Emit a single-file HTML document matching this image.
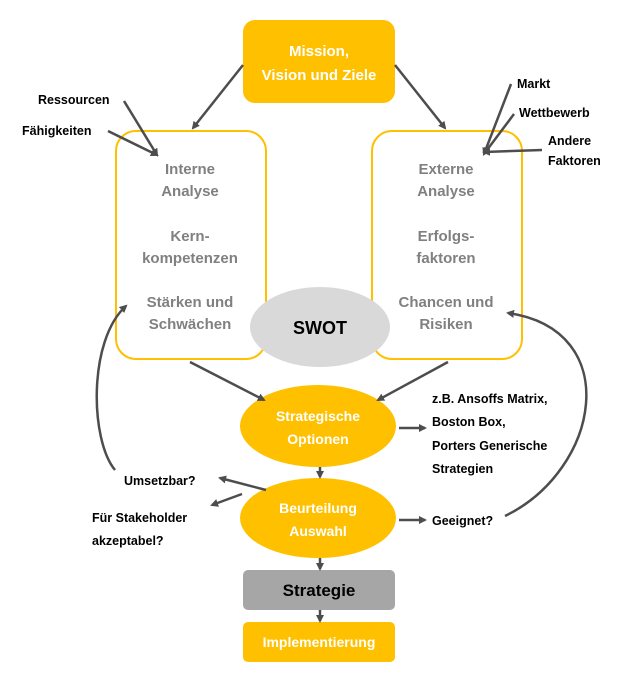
<!DOCTYPE html>
<html><head><meta charset="utf-8"><style>
body{margin:0;background:#fff;width:636px;height:686px;overflow:hidden}
svg text{font-family:"Liberation Sans",sans-serif;font-weight:bold}
</style></head><body>
<svg width="636" height="686" viewBox="0 0 636 686" xmlns="http://www.w3.org/2000/svg">
<defs><marker id="a" markerWidth="8" markerHeight="8" refX="6" refY="4" orient="auto" markerUnits="userSpaceOnUse"><path d="M0,0 L8,4 L0,8 z" fill="#4d4d4d"/></marker></defs>
<rect x="243" y="20" width="152" height="83" rx="12" fill="#FFC000"/>
<text x="319" y="56" text-anchor="middle" fill="#fff" font-size="15">Mission,</text>
<text x="319" y="80" text-anchor="middle" fill="#fff" font-size="15">Vision und Ziele</text>
<rect x="116" y="131" width="150" height="228" rx="20" fill="#fff" stroke="#FFC000" stroke-width="2"/>
<rect x="372" y="131" width="150" height="228" rx="20" fill="#fff" stroke="#FFC000" stroke-width="2"/>
<g fill="#808080" font-size="15" text-anchor="middle">
<text x="190" y="174">Interne</text><text x="190" y="196">Analyse</text>
<text x="190" y="241">Kern-</text><text x="190" y="263">kompetenzen</text>
<text x="190" y="307">Stärken und</text><text x="190" y="329">Schwächen</text>
<text x="446" y="174">Externe</text><text x="446" y="196">Analyse</text>
<text x="446" y="241">Erfolgs-</text><text x="446" y="263">faktoren</text>
<text x="446" y="307">Chancen und</text><text x="446" y="329">Risiken</text>
</g>
<ellipse cx="320" cy="327" rx="70" ry="40" fill="#d9d9d9"/>
<text x="320" y="334" text-anchor="middle" font-size="18" fill="#000">SWOT</text>
<ellipse cx="318" cy="426" rx="78" ry="41" fill="#FFC000"/>
<text x="318" y="421" text-anchor="middle" fill="#fff" font-size="14">Strategische</text>
<text x="318" y="444" text-anchor="middle" fill="#fff" font-size="14">Optionen</text>
<ellipse cx="318" cy="518" rx="78" ry="40" fill="#FFC000"/>
<text x="318" y="513" text-anchor="middle" fill="#fff" font-size="14">Beurteilung</text>
<text x="318" y="536" text-anchor="middle" fill="#fff" font-size="14">Auswahl</text>
<rect x="243" y="570" width="152" height="40" rx="5" fill="#a6a6a6"/>
<text x="319" y="596" text-anchor="middle" font-size="17" fill="#000">Strategie</text>
<rect x="243" y="622" width="152" height="40" rx="5" fill="#FFC000"/>
<text x="319" y="647" text-anchor="middle" font-size="14" fill="#fff">Implementierung</text>
<g font-size="12.5" fill="#000">
<text x="38" y="104">Ressourcen</text>
<text x="22" y="135">Fähigkeiten</text>
<text x="517" y="88">Markt</text>
<text x="519" y="117">Wettbewerb</text>
<text x="548" y="145">Andere</text>
<text x="548" y="165">Faktoren</text>
<text x="432" y="403">z.B. Ansoffs Matrix,</text>
<text x="432" y="426">Boston Box,</text>
<text x="432" y="450">Porters Generische</text>
<text x="432" y="473">Strategien</text>
<text x="124" y="485">Umsetzbar?</text>
<text x="92" y="522">Für Stakeholder</text>
<text x="92" y="545">akzeptabel?</text>
<text x="432" y="525">Geeignet?</text>
</g>
<g stroke="#4d4d4d" stroke-width="2.5" fill="none" marker-end="url(#a)">
<line x1="243" y1="65" x2="193" y2="128"/>
<line x1="395" y1="65" x2="445" y2="128"/>
<line x1="124" y1="101" x2="157" y2="155"/>
<line x1="108" y1="131" x2="157" y2="155"/>
<line x1="511" y1="84" x2="484" y2="154"/>
<line x1="514" y1="114" x2="484" y2="154"/>
<line x1="542" y1="150" x2="484" y2="152"/>
<line x1="190" y1="362" x2="264" y2="400"/>
<line x1="448" y1="362" x2="378" y2="400"/>
<line x1="399" y1="428" x2="425" y2="428"/>
<line x1="320" y1="467" x2="320" y2="477"/>
<line x1="266" y1="490" x2="220" y2="478"/>
<line x1="242" y1="494" x2="212" y2="505"/>
<line x1="399" y1="520" x2="425" y2="520"/>
<line x1="320" y1="558" x2="320" y2="569"/>
<line x1="320" y1="610" x2="320" y2="621"/>
<path d="M115,470 C90,440 88,340 126,306"/>
<path d="M505,516 C600,470 625,330 508,313"/>
</g>
</svg>
</body></html>
